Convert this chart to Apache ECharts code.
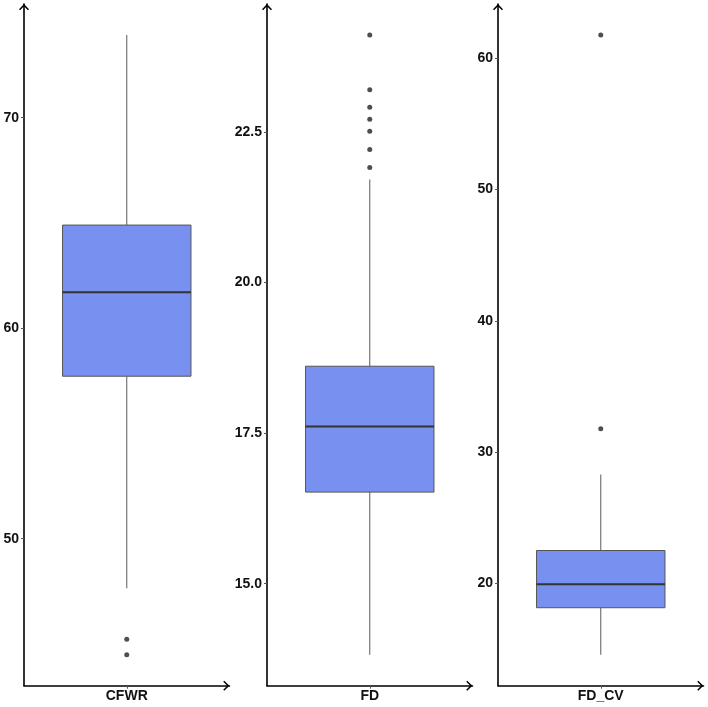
<!DOCTYPE html>
<html>
<head>
<meta charset="utf-8">
<script src="https://cdn.jsdelivr.net/npm/echarts@6/dist/echarts.min.js"></script>
<style>
html,body{margin:0;padding:0;background:#fff;}
#chart{width:708px;height:707px;}
</style>
</head>
<body>
<div id="chart"></div>
<script>
// ---- data ----
const categories = ['CFWR', 'FD', 'FD_CV'];
// [lower whisker, Q1, median, Q3, upper whisker]
const boxCFWR = [47.65, 57.72, 61.71, 64.90, 73.93];
const boxFD = [13.82, 16.52, 17.61, 18.61, 21.71];
const boxFDCV = [14.56, 18.14, 19.92, 22.50, 28.30];
const outCFWR = [45.22, 44.49];
const outFD = [24.11, 23.20, 22.91, 22.71, 22.51, 22.21, 21.91];
const outFDCV = [61.78, 31.78];
const ticksCFWR = [50, 60, 70];
const ticksFD = [15, 17.5, 20, 22.5];
const ticksFDCV = [20, 30, 40, 50, 60];

const boxes = [boxCFWR, boxFD, boxFDCV];
const outs = [outCFWR, outFD, outFDCV];
const ticks = [ticksCFWR, ticksFD, ticksFDCV];
const decimals = [0, 1, 0];

const FONT = "'Liberation Sans', Arial, Helvetica, sans-serif";
const chevron = 'path://M47,0 L94,48 L84,58 L47,20 L10,58 L0,48 Z';

const gridLefts = [24, 267, 498];
const grids = [], xAxes = [], yAxes = [], series = [];

for (let i = 0; i < 3; i++) {
  grids.push({left: gridLefts[i], width: 205.5, top: 4, bottom: 21.3, containLabel: false});
  const all = boxes[i].concat(outs[i]);
  const lo = Math.min.apply(null, all), hi = Math.max.apply(null, all);
  const pad = (hi - lo) * 0.05;
  xAxes.push({
    type: 'category', gridIndex: i, data: [categories[i]], boundaryGap: true,
    axisLine: {show: true, lineStyle: {color: '#000', width: 1.6},
      symbol: ['none', chevron], symbolSize: [10, 6.4], symbolOffset: [0, -3.2]},
    axisTick: {show: true, alignWithLabel: true, length: 3, lineStyle: {color: '#555', width: 1}},
    axisLabel: {color: '#111', fontWeight: 'bold', fontSize: 14, fontFamily: FONT, margin: 3},
    splitLine: {show: false}
  });
  const dec = decimals[i];
  yAxes.push({
    type: 'value', gridIndex: i, min: lo - pad, max: hi + pad,
    axisLine: {show: true, lineStyle: {color: '#000', width: 1.6},
      symbol: ['none', chevron], symbolSize: [10, 6.4], symbolOffset: [0, -3.2]},
    axisTick: {show: true, length: 3, lineStyle: {color: '#555', width: 1}, customValues: ticks[i]},
    axisLabel: {color: '#111', fontWeight: 'bold', fontSize: 14, fontFamily: FONT, margin: 5,
      customValues: ticks[i], formatter: v => Number(v).toFixed(dec)},
    splitLine: {show: false}
  });
  const b = boxes[i];
  series.push({
    type: 'custom', xAxisIndex: i, yAxisIndex: i, clip: false,
    encode: {x: 0, y: [1, 2, 3, 4, 5]},
    data: [[0, b[0], b[1], b[2], b[3], b[4]]],
    renderItem: function (params, api) {
      const x = api.value(0);
      const pMin = api.coord([x, api.value(1)]);
      const pQ1 = api.coord([x, api.value(2)]);
      const pMed = api.coord([x, api.value(3)]);
      const pQ3 = api.coord([x, api.value(4)]);
      const pMax = api.coord([x, api.value(5)]);
      const band = api.size([1, 0])[0];
      const w = band * 0.625;
      const c = pMed[0];
      return {type: 'group', children: [
        {type: 'line', shape: {x1: c, y1: pMax[1], x2: c, y2: pQ3[1]}, style: {stroke: '#6a6a6a', lineWidth: 1.1}},
        {type: 'line', shape: {x1: c, y1: pQ1[1], x2: c, y2: pMin[1]}, style: {stroke: '#6a6a6a', lineWidth: 1.1}},
        {type: 'rect', shape: {x: c - w / 2, y: pQ3[1], width: w, height: pQ1[1] - pQ3[1]},
          style: {fill: '#7890F0', stroke: '#555', lineWidth: 1}},
        {type: 'line', shape: {x1: c - w / 2, y1: pMed[1], x2: c + w / 2, y2: pMed[1]}, style: {stroke: '#333', lineWidth: 2}}
      ]};
    }
  });
  series.push({
    type: 'scatter', xAxisIndex: i, yAxisIndex: i, symbol: 'circle', symbolSize: 5,
    itemStyle: {color: '#222'}, clip: false,
    data: outs[i].map(v => [0, v])
  });
}

const chart = echarts.init(document.getElementById('chart'), null, {renderer: 'canvas'});
chart.setOption({
  animation: false,
  backgroundColor: '#fff',
  grid: grids, xAxis: xAxes, yAxis: yAxes, series: series
});
</script>
</body>
</html>
